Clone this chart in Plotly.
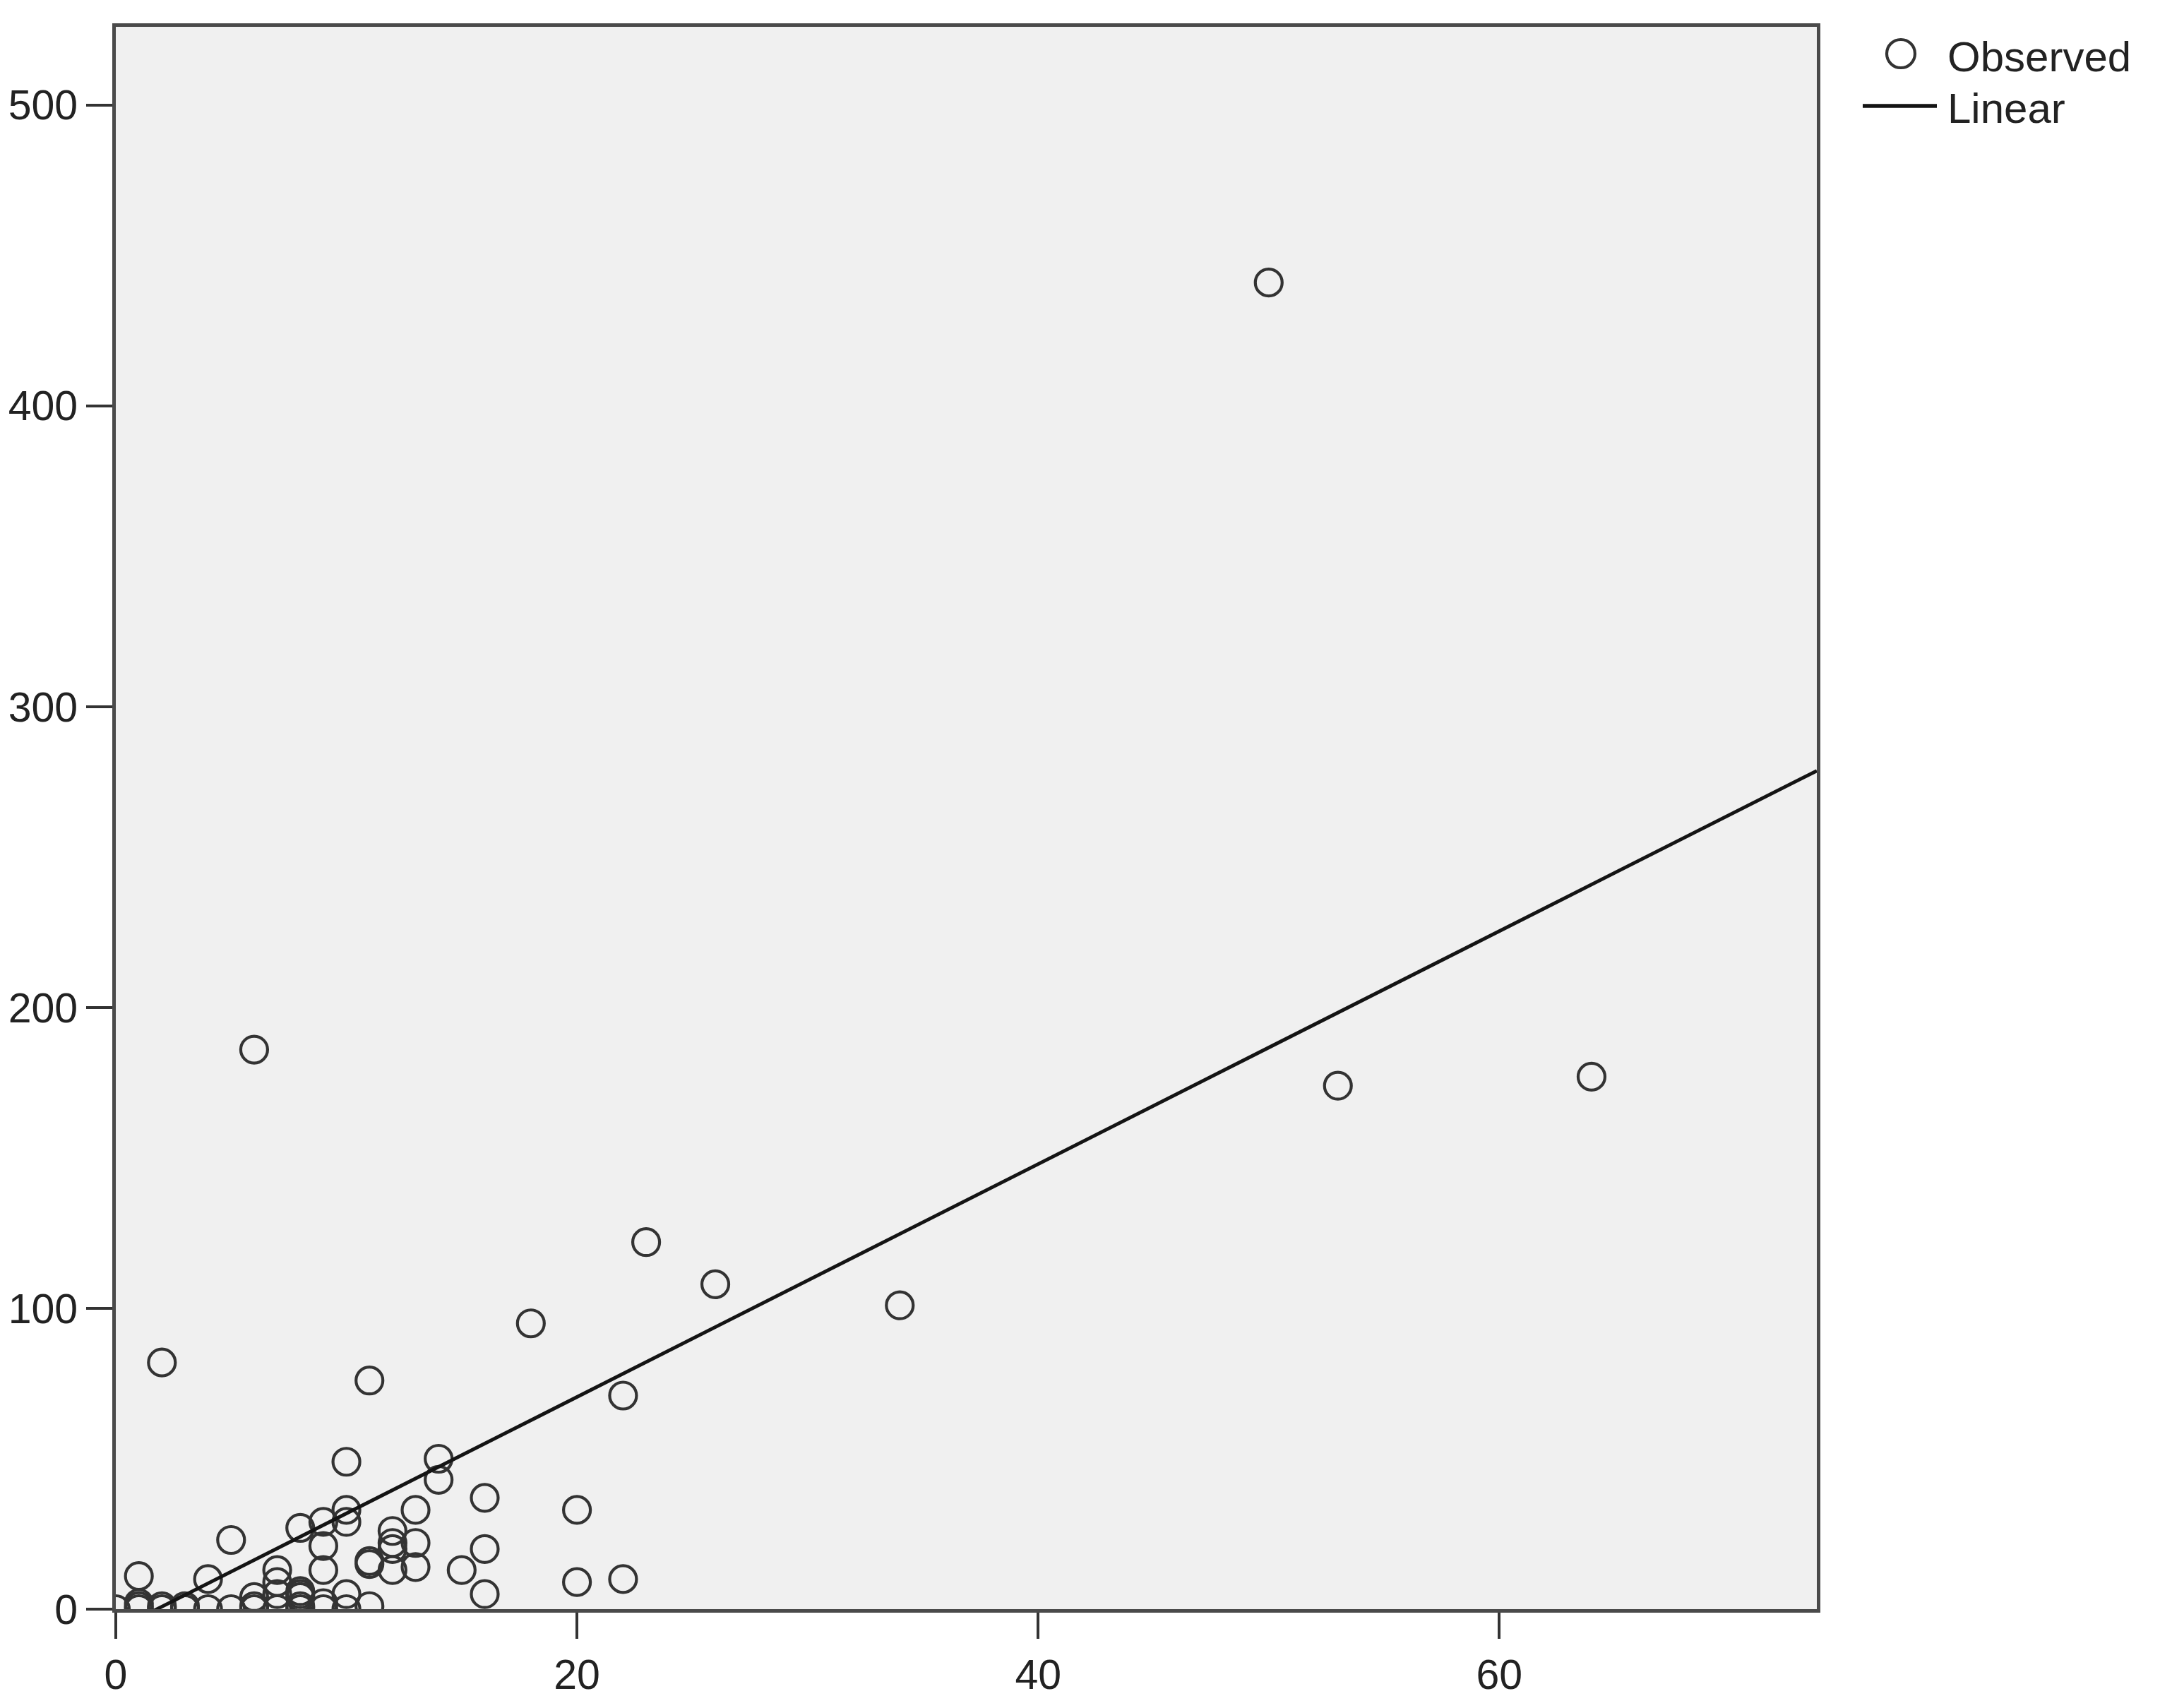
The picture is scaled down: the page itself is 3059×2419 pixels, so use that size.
import plotly.graph_objects as go

obs_x = [50, 53, 64, 6, 34, 23, 26, 18, 2, 11, 22,
         10, 14, 14, 16, 20, 13, 10, 10, 9, 8, 5, 12, 12, 12, 13, 9, 16,
         11, 11, 13, 15, 9, 12, 7, 1, 4, 7, 20, 22, 7, 8, 8, 8, 10, 16, 6,
         0, 1, 1, 1, 2, 2, 3, 3, 4, 5, 6, 6, 7, 8, 8, 9, 9, 10, 11]
obs_y = [441, 174, 177, 186, 101, 122, 108, 95, 82, 76, 71,
         49, 50, 43, 37, 33, 33, 33, 29, 29, 27, 23, 26, 22, 20, 22, 21, 20,
         16, 15, 14, 13, 13, 13, 13, 11, 10, 9, 9, 10, 5, 6, 5, 4, 5, 5, 4,
         0, 0, 1, 2, 0, 1, 0, 1, 0, 0, 0, 1, 0, 0, 1, 2, 0, 0, 1]

# Linear fit line end points
fit_x = [0, 73.77]
fit_y = [-6.9, 278.7]

x_ticks = [0, 20, 40, 60]
y_ticks = [0, 100, 200, 300, 400, 500]

legend_labels = ["Observed", "Linear"]

FONT = "Liberation Sans, Arial, sans-serif"
MARK = "#333333"

fig = go.Figure()
fig.add_trace(go.Scatter(
    x=obs_x, y=obs_y, mode="markers", name=legend_labels[0],
    marker=dict(symbol="circle-open", size=38, color=MARK,
                line=dict(width=4.2, color=MARK)),
    showlegend=False,
))
fig.add_trace(go.Scatter(
    x=fit_x, y=fit_y, mode="lines", name=legend_labels[1],
    line=dict(color="#141414", width=5),
    showlegend=False,
))

axis_common = dict(
    showgrid=False, zeroline=False, showline=True, mirror=True,
    linecolor="#4a4a4a", linewidth=5,
    ticks="outside", ticklen=37, tickwidth=4, tickcolor="#333333",
    tickfont=dict(family=FONT, size=59, color="#222222"),
)

fig.update_xaxes(range=[0, 73.77], tickvals=x_ticks, **axis_common)
fig.update_yaxes(range=[0, 526], tickvals=y_ticks, **axis_common)

# plot area in pixels: left 164, right 2573, top 38, bottom 2279
L, R, T, B = 164, 2573, 38, 2279
def px(xp):
    return (xp - L) / (R - L)
def py(yp):
    return (B - yp) / (B - T)

# manual legend (symbols as shapes, labels as real text)
fig.add_shape(type="circle", xref="paper", yref="paper",
              x0=px(2672), x1=px(2712), y0=py(96), y1=py(56),
              line=dict(color=MARK, width=4.2), fillcolor="rgba(0,0,0,0)")
fig.add_shape(type="line", xref="paper", yref="paper",
              x0=px(2638), x1=px(2743), y0=py(150), y1=py(150),
              line=dict(color="#141414", width=5.5))
fig.add_annotation(text=legend_labels[0], xref="paper", yref="paper",
                   x=px(2756), y=py(80), xanchor="left", yanchor="middle",
                   showarrow=False,
                   font=dict(family=FONT, size=60, color="#222222"))
fig.add_annotation(text=legend_labels[1], xref="paper", yref="paper",
                   x=px(2756), y=py(153), xanchor="left", yanchor="middle",
                   showarrow=False,
                   font=dict(family=FONT, size=60, color="#222222"))

fig.update_layout(
    width=3059, height=2419,
    margin=dict(l=L, r=3059 - R, t=T, b=2419 - B),
    paper_bgcolor="white", plot_bgcolor="#f0f0f0",
    showlegend=False,
)

fig.write_html("out.html", config={"displayModeBar": False},
               post_script="document.body.style.margin='0';")
